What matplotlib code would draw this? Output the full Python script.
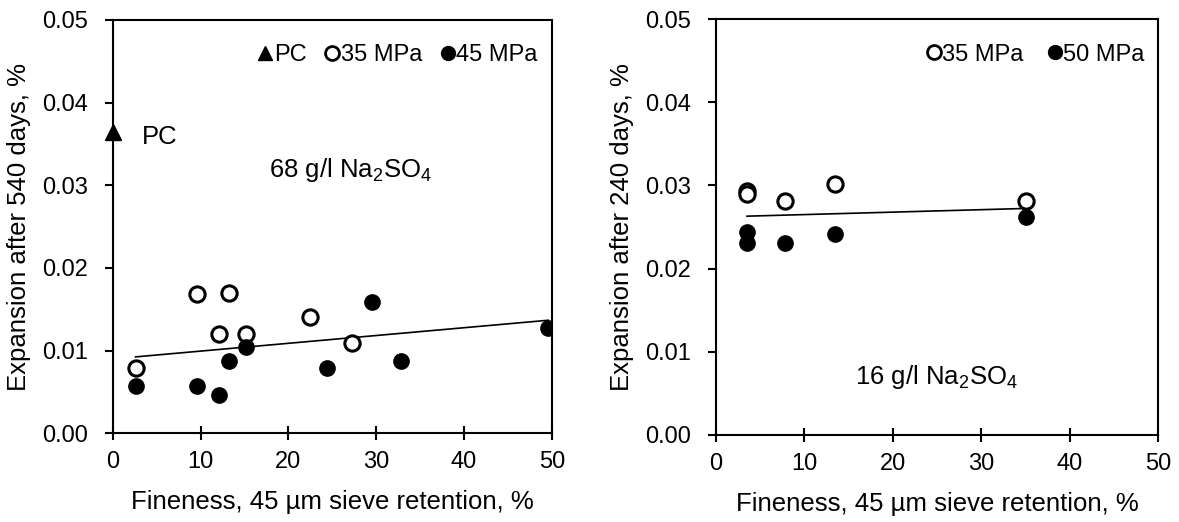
import numpy as np
import matplotlib
matplotlib.use("Agg")
import matplotlib.pyplot as plt
from matplotlib.lines import Line2D

plt.rcParams['font.family'] = ['Liberation Sans', 'DejaVu Sans']
plt.rcParams['mathtext.fontset'] = 'custom'
plt.rcParams['mathtext.rm'] = 'Liberation Sans'
plt.rcParams['mathtext.it'] = 'Liberation Sans:italic'
plt.rcParams['font.size'] = 17

# left panel: 68 g/l Na2SO4, 540 days
pc_x = [0.0]
pc_y = [0.0365]
l35_x = [2.6, 9.6, 13.25, 12.1, 15.15, 22.5, 27.3]
l35_y = [0.0079, 0.0169, 0.0170, 0.0120, 0.0120, 0.0141, 0.0109]
l45_x = [2.6, 9.6, 12.1, 13.25, 15.15, 24.4, 29.5, 32.8, 49.6]
l45_y = [0.0057, 0.0057, 0.0046, 0.0088, 0.0105, 0.0079, 0.0159, 0.0088, 0.0128]

# right panel: 16 g/l Na2SO4, 240 days
r35_x = [3.5, 3.5, 7.8, 13.5, 35.0]
r35_y = [0.0293, 0.0290, 0.0281, 0.0302, 0.0281]
r50_x = [3.5, 3.5, 7.8, 13.5, 35.0]
r50_y = [0.0244, 0.0231, 0.0231, 0.0242, 0.0262]

ylabels = ['Expansion after 540 days, %', 'Expansion after 240 days, %']
xlabel = 'Fineness, 45 \u00b5m sieve retention, %'

fig = plt.figure(figsize=(11.79, 5.22), dpi=100)
ax1 = fig.add_axes([0.0956, 0.1699, 0.3724, 0.7918])
ax2 = fig.add_axes([0.6073, 0.1667, 0.3752, 0.7969])

ms = 11
open_kw = dict(marker='o', ls='none', ms=ms, mfc='white', mec='black', mew=2.2)
fill_kw = dict(marker='o', ls='none', ms=ms, mfc='black', mec='black')


def trend(ax, xs, ys):
    xs = np.array(xs)
    ys = np.array(ys)
    p = np.polyfit(xs, ys, 1)
    xx = np.array([xs.min(), xs.max()])
    ax.plot(xx, np.polyval(p, xx), color='black', lw=1.2, zorder=1)


# left
trend(ax1, l35_x + l45_x, l35_y + l45_y)
ax1.plot(l35_x, l35_y, **open_kw, zorder=3)
ax1.plot(l45_x, l45_y, **fill_kw, zorder=3)
ax1.plot(pc_x, pc_y, marker='^', ls='none', ms=11, color='black', clip_on=False, zorder=4)
ax1.text(3.3, 0.0358, 'PC', ha='left', va='center', fontsize=18.5)
ax1.text(27.1, 0.0318, '68 g/l Na$_2$SO$_4$', ha='center', va='center', fontsize=18.5)
h1 = [Line2D([], [], marker='^', ls='none', ms=10, color='black'),
      Line2D([], [], **{**open_kw, 'ms': 10, 'mew': 2}),
      Line2D([], [], **{**fill_kw, 'ms': 10})]
ax1.legend(h1, ['PC', '35 MPa', '45 MPa'], ncol=3, loc='upper right', frameon=False,
           handlelength=0.6, handletextpad=0.05, columnspacing=0.8,
           bbox_to_anchor=(1.0, 0.975), borderaxespad=0.2)

# right
trend(ax2, r35_x + r50_x, r35_y + r50_y)
ax2.plot(r35_x, r35_y, **open_kw, zorder=3)
ax2.plot(r50_x, r50_y, **fill_kw, zorder=3)
ax2.text(24.9, 0.0070, '16 g/l Na$_2$SO$_4$', ha='center', va='center', fontsize=18.5)
h2 = [Line2D([], [], **{**open_kw, 'ms': 10, 'mew': 2}),
      Line2D([], [], **{**fill_kw, 'ms': 10})]
ax2.legend(h2, ['35 MPa', '50 MPa'], ncol=2, loc='upper right', frameon=False,
           handlelength=0.6, handletextpad=0.05, columnspacing=1.0,
           bbox_to_anchor=(1.0, 0.975), borderaxespad=0.2)

for ax, yl in zip([ax1, ax2], ylabels):
    ax.set_xlim(0, 50)
    ax.set_ylim(0, 0.05)
    ax.set_xticks(np.arange(0, 51, 10))
    ax.set_yticks(np.arange(0, 0.051, 0.01))
    ax.yaxis.set_major_formatter(plt.FormatStrFormatter('%.2f'))
    ax.tick_params(axis='x', direction='inout', length=10, width=1.5, pad=8)
    ax.tick_params(axis='y', direction='out', length=6, width=1.5, pad=12)
    for s in ax.spines.values():
        s.set_linewidth(1.5)
    ax.set_xlabel(xlabel, labelpad=12, fontsize=18.5)
    ax.set_ylabel(yl, labelpad=8, fontsize=18.5)

fig.savefig('out.png', dpi=100)
